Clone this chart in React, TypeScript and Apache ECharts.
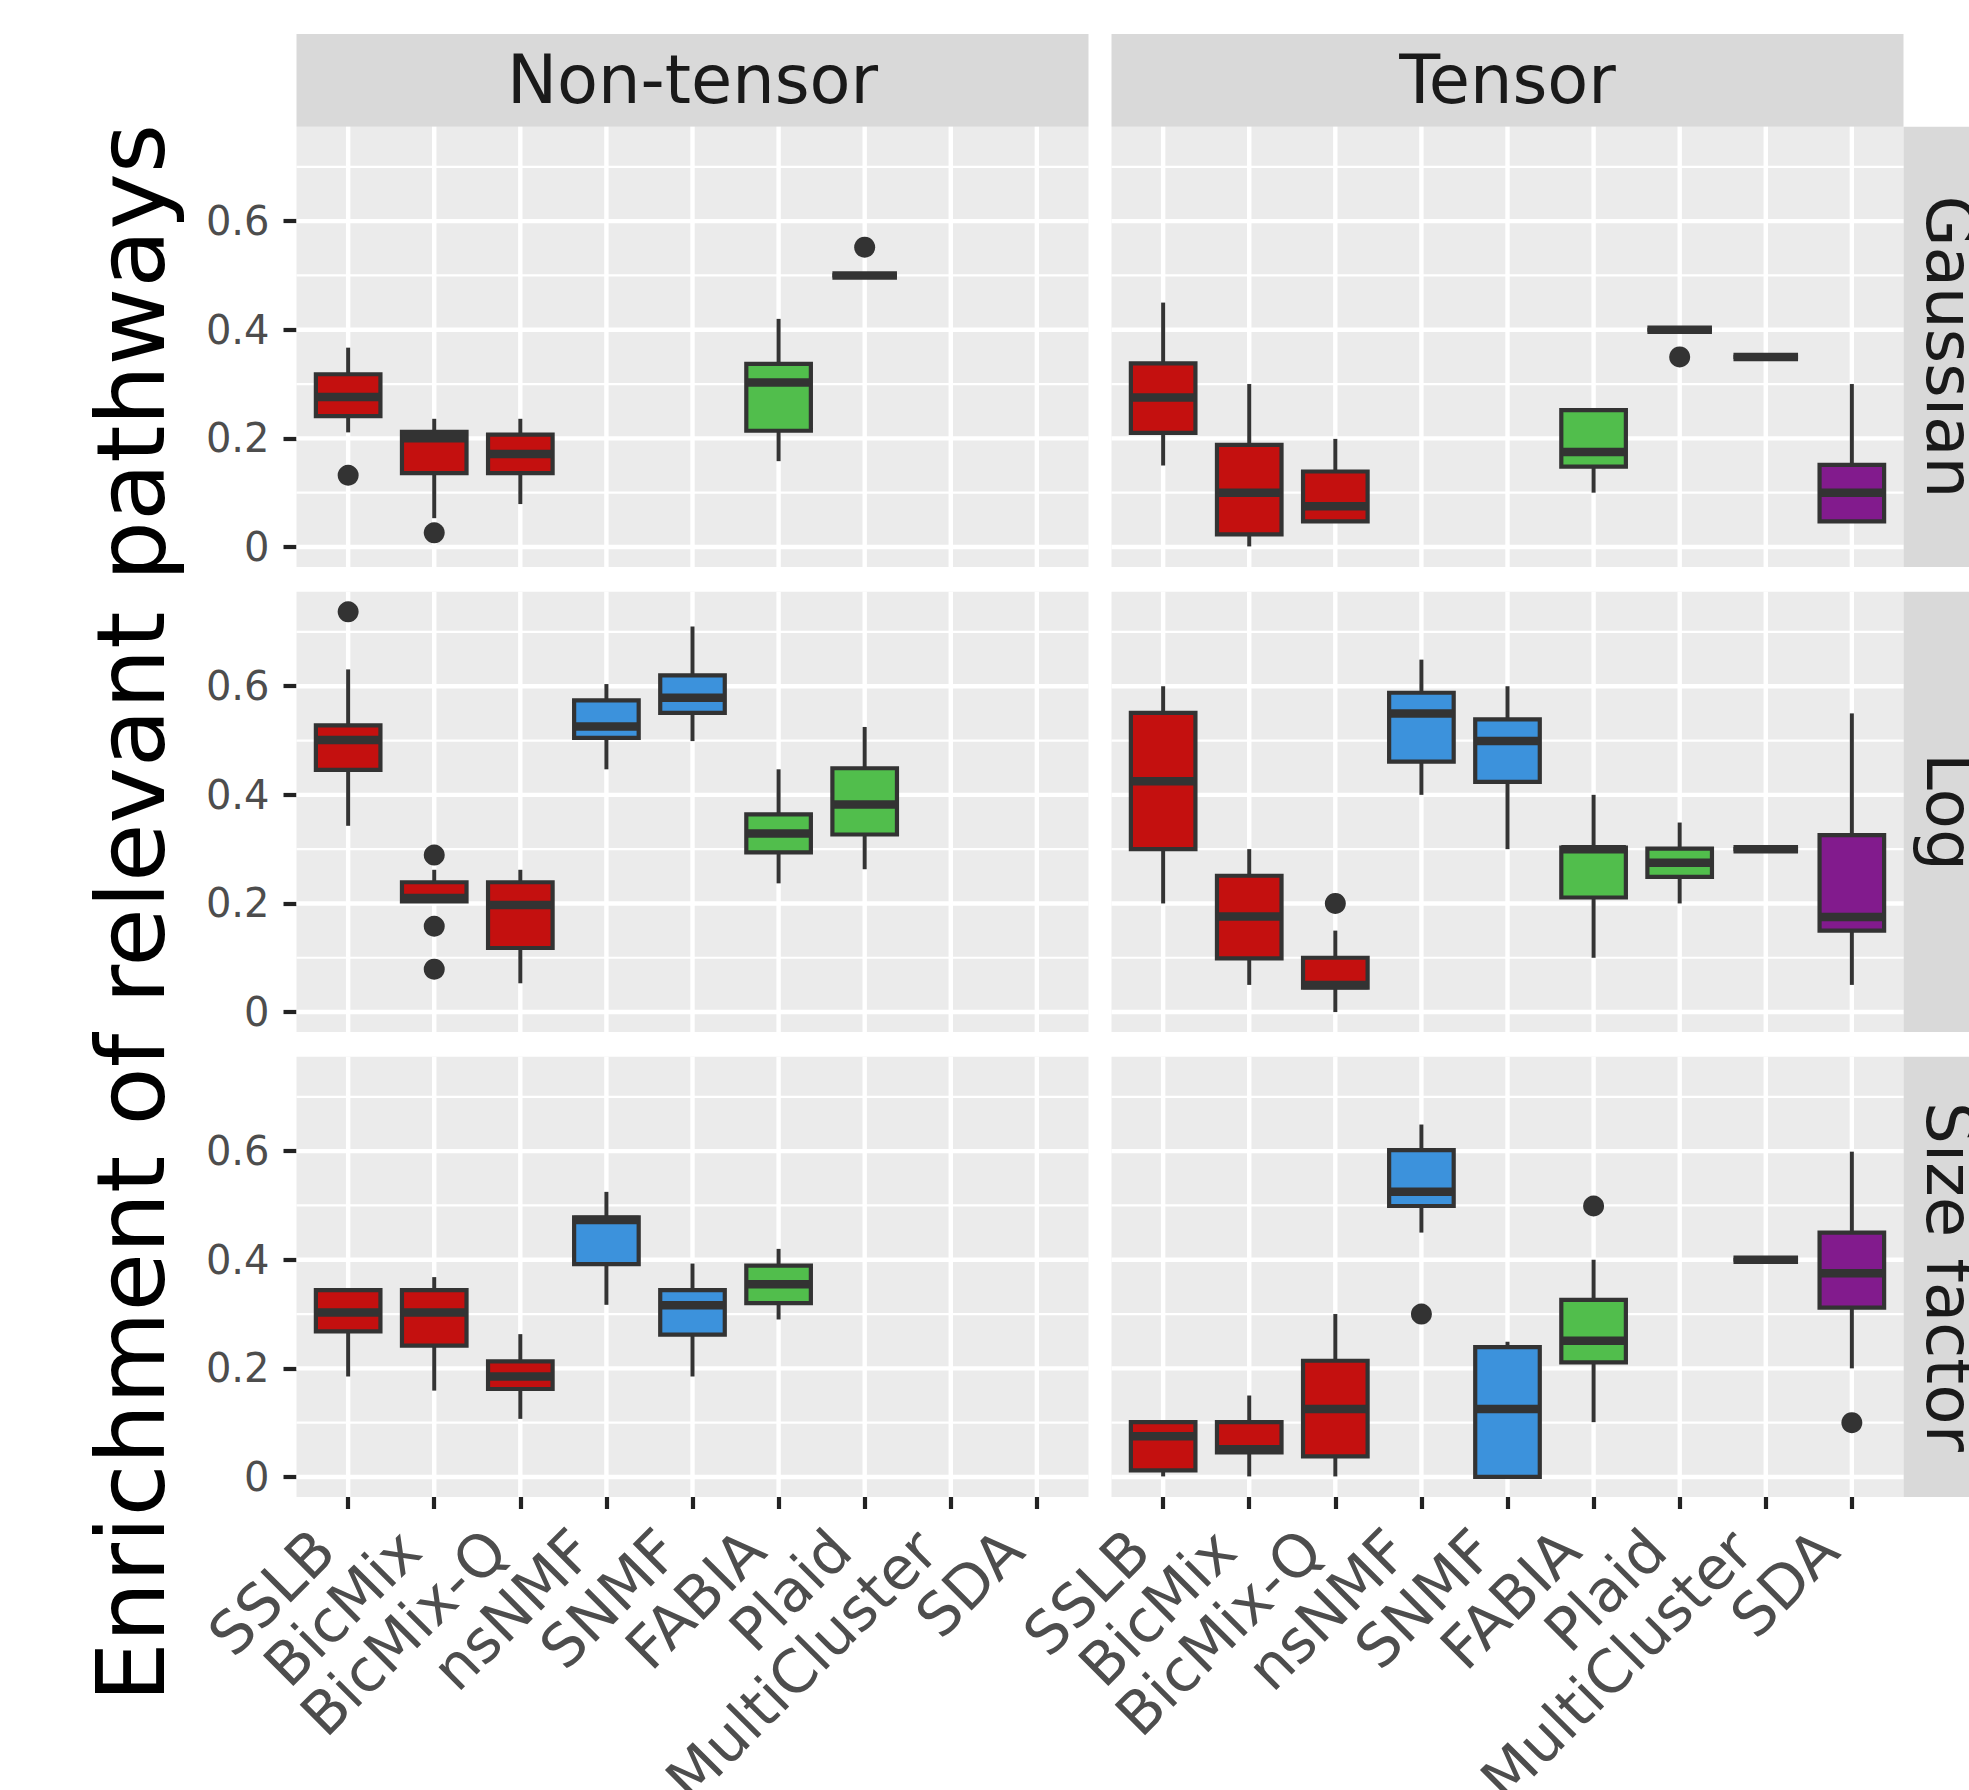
import React, { useEffect, useRef } from "react";
import * as echarts from "echarts";

// ---------- data ----------
const methods = ["SSLB", "BicMix", "BicMix-Q", "nsNMF", "SNMF", "FABIA", "Plaid", "MultiCluster", "SDA"];
const methodColors = ["#C4100F", "#C4100F", "#C4100F", "#3C92DC", "#3C92DC", "#51BE4C", "#51BE4C", "#E69F00", "#821B8D"];
const rowNames = ["Gaussian", "Log", "Size factor"];
const colNames = ["Non-tensor", "Tensor"];
const yMajorBreaks = [0, 0.2, 0.4, 0.6];
const yMinorBreaks = [0.1, 0.3, 0.5, 0.7];

// box rows: [methodIndex, lowerWhisker, q1, median, q3, upperWhisker]
const boxesNonTensorGaussian = [
  [0, 0.211, 0.241, 0.276, 0.318, 0.367],
  [1, 0.053, 0.136, 0.2, 0.212, 0.236],
  [2, 0.079, 0.136, 0.171, 0.207, 0.236],
  [5, 0.158, 0.214, 0.303, 0.337, 0.42],
  [6, 0.5, 0.5, 0.5, 0.5, 0.5],
];
const outliersNonTensorGaussian = [[0, 0.132], [1, 0.026], [6, 0.552]];

const boxesTensorGaussian = [
  [0, 0.15, 0.21, 0.275, 0.338, 0.45],
  [1, 0.001, 0.023, 0.1, 0.188, 0.3],
  [2, 0.047, 0.047, 0.075, 0.139, 0.199],
  [5, 0.1, 0.148, 0.175, 0.252, 0.252],
  [6, 0.4, 0.4, 0.4, 0.4, 0.4],
  [7, 0.35, 0.35, 0.35, 0.35, 0.35],
  [8, 0.047, 0.047, 0.1, 0.151, 0.3],
];
const outliersTensorGaussian = [[6, 0.35]];

const boxesNonTensorLog = [
  [0, 0.343, 0.446, 0.501, 0.528, 0.631],
  [1, 0.204, 0.204, 0.21, 0.239, 0.262],
  [2, 0.053, 0.118, 0.197, 0.239, 0.262],
  [3, 0.447, 0.505, 0.526, 0.574, 0.604],
  [4, 0.499, 0.551, 0.579, 0.62, 0.71],
  [5, 0.237, 0.294, 0.329, 0.364, 0.447],
  [6, 0.263, 0.327, 0.382, 0.449, 0.525],
];
const outliersNonTensorLog = [[0, 0.737], [1, 0.289], [1, 0.158], [1, 0.079]];

const boxesTensorLog = [
  [0, 0.2, 0.3, 0.425, 0.551, 0.6],
  [1, 0.05, 0.099, 0.176, 0.251, 0.3],
  [2, 0.0, 0.045, 0.05, 0.1, 0.15],
  [3, 0.4, 0.461, 0.55, 0.588, 0.649],
  [4, 0.3, 0.424, 0.499, 0.539, 0.6],
  [5, 0.1, 0.211, 0.3, 0.303, 0.4],
  [6, 0.2, 0.249, 0.275, 0.301, 0.349],
  [7, 0.3, 0.3, 0.3, 0.3, 0.3],
  [8, 0.05, 0.15, 0.175, 0.326, 0.55],
];
const outliersTensorLog = [[2, 0.2]];

const boxesNonTensorSize = [
  [0, 0.185, 0.268, 0.303, 0.344, 0.344],
  [1, 0.159, 0.242, 0.303, 0.344, 0.368],
  [2, 0.107, 0.162, 0.185, 0.213, 0.263],
  [3, 0.317, 0.392, 0.473, 0.478, 0.525],
  [4, 0.185, 0.262, 0.316, 0.344, 0.393],
  [5, 0.29, 0.32, 0.355, 0.389, 0.42],
];
const outliersNonTensorSize: number[][] = [];

const boxesTensorSize = [
  [0, 0.001, 0.012, 0.075, 0.101, 0.101],
  [1, 0.001, 0.045, 0.051, 0.101, 0.15],
  [2, 0.001, 0.038, 0.125, 0.214, 0.3],
  [3, 0.45, 0.499, 0.525, 0.602, 0.649],
  [4, 0.0, 0.0, 0.125, 0.239, 0.249],
  [5, 0.101, 0.211, 0.251, 0.326, 0.4],
  [7, 0.4, 0.4, 0.4, 0.4, 0.4],
  [8, 0.2, 0.312, 0.375, 0.45, 0.599],
];
const outliersTensorSize = [[3, 0.3], [5, 0.499], [8, 0.1]];

const panelBoxes = [
  [boxesNonTensorGaussian, boxesTensorGaussian],
  [boxesNonTensorLog, boxesTensorLog],
  [boxesNonTensorSize, boxesTensorSize],
];
const panelOutliers = [
  [outliersNonTensorGaussian, outliersTensorGaussian],
  [outliersNonTensorLog, outliersTensorLog],
  [outliersNonTensorSize, outliersTensorSize],
];

// ---------- layout ----------
const W = 1969;
const H = 1790;
const FONT = "DejaVu Sans";
const colLeft = [296.5, 1111.5];
const colWidth = 792;
const rowTop = [126.7, 591.8, 1056.7];
const rowHeight = 440.3;
const stripSize = 92.7;
const xMin = -0.6;
const xMax = methods.length - 1 + 0.6;
const yMin = -0.0369;
const yMax = 0.7739;
const boxHalf = 0.375;
const DARK = "#333333";

function buildOption() {
  const grids: any[] = [];
  const xAxes: any[] = [];
  const yAxes: any[] = [];
  const series: any[] = [];
  const tickIdx = methods.map((_, i) => i);

  const gridLineData: number[][] = [];
  yMajorBreaks.forEach((v) => gridLineData.push([0, v]));
  yMinorBreaks.forEach((v) => gridLineData.push([1, v]));
  tickIdx.forEach((i) => gridLineData.push([2, i]));

  for (let r = 0; r < rowNames.length; r++) {
    for (let c = 0; c < colNames.length; c++) {
      const gi = grids.length;
      const bottomRow = r === rowNames.length - 1;
      const leftCol = c === 0;
      grids.push({
        left: colLeft[c],
        top: rowTop[r],
        width: colWidth,
        height: rowHeight,
        show: true,
        backgroundColor: "#EBEBEB",
        borderWidth: 0,
        containLabel: false,
        outerBoundsMode: "none",
      });
      xAxes.push({
        type: "value",
        gridIndex: gi,
        position: "bottom",
        min: xMin,
        max: xMax,
        axisLine: { show: false, onZero: false },
        splitLine: { show: false },
        axisTick: {
          show: bottomRow,
          length: 12,
          customValues: tickIdx,
          lineStyle: { color: "#222222", width: 4.2 },
        },
        axisLabel: {
          show: bottomRow,
          customValues: tickIdx,
          rotate: 45,
          margin: 19,
          padding: [0, 34, 0, 0],
          fontSize: 59,
          fontFamily: FONT,
          color: "#4D4D4D",
          formatter: (v: number) => methods[Math.round(v)] ?? "",
        },
      });
      yAxes.push({
        type: "value",
        gridIndex: gi,
        position: "left",
        min: yMin,
        max: yMax,
        axisLine: { show: false, onZero: false },
        splitLine: { show: false },
        axisTick: {
          show: leftCol,
          length: 13,
          customValues: yMajorBreaks,
          lineStyle: { color: "#222222", width: 4.2 },
        },
        axisLabel: {
          show: leftCol,
          customValues: yMajorBreaks,
          margin: 27,
          fontSize: 40,
          fontFamily: FONT,
          color: "#4D4D4D",
          formatter: (v: number) => (Math.abs(v) < 1e-9 ? "0" : v.toFixed(1)),
        },
      });

      // grid lines
      series.push({
        type: "custom",
        xAxisIndex: gi,
        yAxisIndex: gi,
        silent: true,
        z: 1,
        clip: false,
        data: gridLineData,
        renderItem: (params: any, api: any) => {
          const kind = api.value(0);
          const v = api.value(1);
          let a, b, w;
          if (kind === 2) {
            a = api.coord([v, yMin]);
            b = api.coord([v, yMax]);
            w = 4.4;
          } else {
            a = api.coord([xMin, v]);
            b = api.coord([xMax, v]);
            w = kind === 0 ? 4.4 : 2.2;
          }
          return {
            type: "line",
            shape: { x1: a[0], y1: a[1], x2: b[0], y2: b[1] },
            style: { stroke: "#FFFFFF", lineWidth: w },
          };
        },
      });

      // boxes
      series.push({
        type: "custom",
        xAxisIndex: gi,
        yAxisIndex: gi,
        silent: true,
        z: 2,
        clip: false,
        data: panelBoxes[r][c],
        renderItem: (params: any, api: any) => {
          const i = api.value(0);
          const lo = api.value(1);
          const q1 = api.value(2);
          const md = api.value(3);
          const q3 = api.value(4);
          const hi = api.value(5);
          const pLo = api.coord([i, lo]);
          const pHi = api.coord([i, hi]);
          const tl = api.coord([i - boxHalf, q3]);
          const br = api.coord([i + boxHalf, q1]);
          const m = api.coord([i, md]);
          const ls = { stroke: DARK, lineWidth: 4 };
          return {
            type: "group",
            children: [
              { type: "line", shape: { x1: pHi[0], y1: pHi[1], x2: pHi[0], y2: tl[1] }, style: ls },
              { type: "line", shape: { x1: pLo[0], y1: br[1], x2: pLo[0], y2: pLo[1] }, style: ls },
              {
                type: "rect",
                shape: { x: tl[0], y: tl[1], width: br[0] - tl[0], height: br[1] - tl[1] },
                style: { fill: methodColors[i], stroke: DARK, lineWidth: 4.2 },
              },
              {
                type: "line",
                shape: { x1: tl[0], y1: m[1], x2: br[0], y2: m[1] },
                style: { stroke: DARK, lineWidth: 8.5 },
              },
            ],
          };
        },
      });

      // outliers
      series.push({
        type: "scatter",
        xAxisIndex: gi,
        yAxisIndex: gi,
        silent: true,
        z: 3,
        symbol: "circle",
        symbolSize: 21,
        itemStyle: { color: DARK, opacity: 1 },
        data: panelOutliers[r][c],
      });
    }
  }

  const graphics: any[] = [];
  colNames.forEach((name, c) => {
    graphics.push({
      type: "rect",
      silent: true,
      shape: { x: colLeft[c], y: rowTop[0] - stripSize, width: colWidth, height: stripSize },
      style: { fill: "#D9D9D9" },
    });
    graphics.push({
      type: "text",
      silent: true,
      x: colLeft[c] + colWidth / 2,
      y: rowTop[0] - stripSize / 2,
      style: {
        text: name,
        fontSize: 67,
        fontFamily: FONT,
        fill: "#1A1A1A",
        align: "center",
        verticalAlign: "middle",
        textAlign: "center",
        textVerticalAlign: "middle",
      },
    });
  });
  rowNames.forEach((name, r) => {
    const x0 = colLeft[1] + colWidth;
    graphics.push({
      type: "rect",
      silent: true,
      shape: { x: x0, y: rowTop[r], width: stripSize, height: rowHeight },
      style: { fill: "#D9D9D9" },
    });
    graphics.push({
      type: "text",
      silent: true,
      x: x0 + stripSize / 2,
      y: rowTop[r] + rowHeight / 2,
      rotation: -Math.PI / 2,
      style: {
        text: name,
        fontSize: 66,
        fontFamily: FONT,
        fill: "#1A1A1A",
        align: "center",
        verticalAlign: "middle",
        textAlign: "center",
        textVerticalAlign: "middle",
      },
    });
  });
  graphics.push({
    type: "text",
    silent: true,
    x: 131,
    y: 913,
    rotation: Math.PI / 2,
    style: {
      text: "Enrichment of relevant pathways",
      fontSize: 95,
      fontFamily: FONT,
      fill: "#000000",
      align: "center",
      verticalAlign: "middle",
      textAlign: "center",
      textVerticalAlign: "middle",
    },
  });

  return {
    animation: false,
    backgroundColor: "#FFFFFF",
    textStyle: { fontFamily: FONT },
    grid: grids,
    xAxis: xAxes,
    yAxis: yAxes,
    series,
    graphic: { elements: graphics },
  };
}

export default function App() {
  const ref = useRef<HTMLDivElement>(null);
  useEffect(() => {
    document.body.style.margin = "0";
    document.body.style.overflow = "hidden";
    if (!ref.current) return;
    const chart = echarts.init(ref.current, undefined, { renderer: "svg" });
    chart.setOption(buildOption() as any);
    return () => chart.dispose();
  }, []);
  return <div ref={ref} style={{ width: W, height: H }} />;
}
